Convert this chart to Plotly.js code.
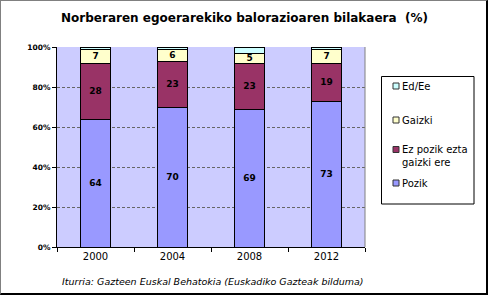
<!DOCTYPE html>
<html>
<head>
<meta charset="utf-8">
<script src="https://cdn.plot.ly/plotly-3.0.1.min.js"></script>
<style>
html,body{margin:0;padding:0;background:#fff;}
#chart{position:absolute;left:0;top:0;width:489px;height:297px;}
#frame{position:absolute;left:0;top:0;width:485px;height:292px;border-left:1px solid #808080;border-top:1px solid #808080;border-right:2px solid #000;border-bottom:2px solid #000;pointer-events:none;}
</style>
</head>
<body>
<div id="chart"></div>
<div id="frame"></div>
<script>
// ---- data ----
const years = ['2000', '2004', '2008', '2012'];
const pozik = [64, 70, 69, 73];
const ezPozik = [28, 23, 23, 19];
const gaizki = [7, 6, 5, 7];
const edEe = [1, 1, 3, 1];
const seriesNames = ['Pozik', 'Ez pozik ezta gaizki ere', 'Gaizki', 'Ed/Ee'];
const legendLabels = ['Ed/Ee', 'Gaizki', 'Ez pozik ezta<br>gaizki ere', 'Pozik'];
const colors = {Pozik: '#9999FF', Ez: '#993366', Gaizki: '#FFFFCC', Ed: '#CCFFFF'};
const yTicks = [0, 20, 40, 60, 80, 100];

const W = 489, H = 297;
const M = {l: 57, r: 124, t: 47, b: 50};
const PW = W - M.l - M.r, PH = H - M.t - M.b;
const px = x => (x - M.l) / PW;
const py = y => (H - M.b - y) / PH;

const FONT = 'DejaVu Sans, Verdana, sans-serif';
const lbl = {family: FONT, size: 9, color: '#000', weight: 'bold'};

function barTrace(name, vals, color, withText) {
  return {
    type: 'bar', name: name, x: years, y: vals,
    marker: {color: color, line: {color: '#000', width: 1}},
    text: withText ? vals.map(String) : undefined,
    textposition: withText ? 'inside' : 'none',
    insidetextanchor: 'middle',
    textangle: 0,
    constraintext: 'none',
    textfont: lbl,
    hoverinfo: 'skip'
  };
}

const data = [
  barTrace(seriesNames[0], pozik, colors.Pozik, true),
  barTrace(seriesNames[1], ezPozik, colors.Ez, true),
  barTrace(seriesNames[2], gaizki, colors.Gaizki, true),
  barTrace(seriesNames[3], edEe, colors.Ed, false)
];

const legendColors = [colors.Ed, colors.Gaizki, colors.Ez, colors.Pozik];
const legendRowY = [86, 120, 149.5, 183];
const legendTextY = [86, 120, 155.5, 183];

const shapes = [
  // plot right edge
  {type: 'line', xref: 'paper', yref: 'paper', x0: 1, x1: 1, y0: 0, y1: 1, line: {color: '#808080', width: 1}},
  // legend box
  {type: 'rect', xref: 'paper', yref: 'paper', x0: px(381.5), x1: px(474), y0: py(204), y1: py(76.5), line: {color: '#000', width: 1}, fillcolor: '#fff'}
];
const annotations = [
  {text: '<i>Iturria: Gazteen Euskal Behatokia (Euskadiko Gazteak bilduma)</i>', xref: 'paper', yref: 'paper',
   x: px(213), y: py(281), xanchor: 'center', yanchor: 'middle', showarrow: false,
   font: {family: FONT, size: 9.5, color: '#000'}}
];
legendLabels.forEach((t, i) => {
  shapes.push({type: 'rect', xref: 'paper', yref: 'paper', x0: px(393), x1: px(399), y0: py(legendRowY[i] + 3), y1: py(legendRowY[i] - 3),
    fillcolor: legendColors[i], line: {color: '#333', width: 1}});
  annotations.push({text: t, xref: 'paper', yref: 'paper', x: px(399.5), y: py(legendTextY[i]), xanchor: 'left', yanchor: 'middle',
    align: 'left', showarrow: false, font: {family: FONT, size: 10, color: '#000'}});
});

const layout = {
  width: W, height: H,
  margin: M,
  paper_bgcolor: '#fff',
  plot_bgcolor: '#CCCCFF',
  barmode: 'stack',
  bargap: 0.61,
  showlegend: false,
  title: {text: '<b>Norberaren egoerarekiko balorazioaren bilakaera  (%)</b>', xref: 'container', yref: 'container',
          x: 0.5, xanchor: 'center', y: 1 - 18 / H, yanchor: 'middle', font: {family: FONT, size: 12, color: '#000'}},
  xaxis: {type: 'category', showline: true, linecolor: '#000', linewidth: 1, ticks: 'outside', ticklen: 4, tickcolor: '#000',
          tickson: 'boundaries', showgrid: false, tickfont: {family: FONT, size: 10, color: '#000'}, fixedrange: true},
  yaxis: {range: [0, 100], tickvals: yTicks, ticktext: yTicks.map(v => v + '%'), showline: true, linecolor: '#000', linewidth: 1,
          ticks: 'outside', ticklen: 4, tickcolor: '#000', showgrid: true, gridcolor: '#666', gridwidth: 1, griddash: '3px,2px',
          zeroline: false, tickfont: {family: FONT, size: 7.5, color: '#000', weight: 'bold'}, fixedrange: true},
  shapes: shapes,
  annotations: annotations
};

Plotly.newPlot('chart', data, layout, {staticPlot: true, displayModeBar: false});
</script>
</body>
</html>
